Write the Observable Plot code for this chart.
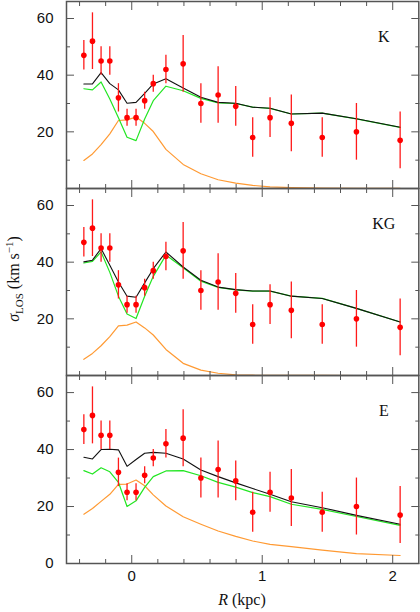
<!DOCTYPE html>
<html>
<head>
<meta charset="utf-8">
<script src="https://cdn.jsdelivr.net/npm/d3@7"></script>
<script src="https://cdn.jsdelivr.net/npm/@observablehq/plot@0.6"></script>
<style>
  html, body { margin: 0; padding: 0; background: white; }
  #wrap { position: relative; width: 420px; height: 612px; overflow: hidden; background: white; }
  #wrap svg { position: absolute; left: 0; overflow: visible; }
  .lbl { position: absolute; font-family: "Liberation Serif", "Times New Roman", serif; font-size: 16px; white-space: nowrap; color: #111; line-height: 16px; }
  sub, sup { font-size: 11px; line-height: 0; }
</style>
</head>
<body>
<div id="wrap"></div>
<script>
// Radial positions (kpc)
const R = [-0.367, -0.301, -0.235, -0.168, -0.102, -0.036, 0.033, 0.099, 0.165, 0.262, 0.394, 0.530, 0.662, 0.797, 0.927, 1.060, 1.223, 1.460, 1.722, 2.057];
// Observed line-of-sight dispersion and errors (km/s)
const sigma = [47, 52, 45, 45, 32, 25, 25, 31, 37, 42, 44, 30, 33, 29, 18, 25, 23, 18, 20, 17];
const sigmaErr = [5.2, 10, 5, 5, 5, 3, 3, 3, 3, 5, 10, 7, 10, 7, 7, 7, 10, 7, 10, 10];

// Model K
const totalK  = [36.9, 36.9, 40.9, 37.0, 34.8, 30.1, 30.4, 33.6, 36.9, 38.7, 35.5, 32.2, 30.4, 30.1, 28.7, 28.3, 26.3, 26.6, 24.6, 21.6];
const greenK  = [35.2, 34.8, 37.6, 31.6, 25.0, 18.1, 16.9, 24.5, 31.0, 36.1, 34.5, 31.8, 30.2, 30.0, 28.7, 28.3, 26.3, 26.6, 24.6, 21.6];
const orangeK = [9.9, 12.2, 15.5, 19.3, 24.0, 24.2, 25.2, 23.0, 20.1, 13.8, 8.5, 5.2, 3.1, 1.9, 1.1, 0.6, 0.3, 0.1, 0.05, 0.02];
// Model KG
const totalKG  = [40.1, 40.7, 44.8, 38.9, 33.0, 28.0, 27.6, 32.7, 37.7, 43.6, 38.3, 33.6, 31.2, 30.3, 29.8, 29.8, 28.0, 27.2, 23.7, 18.9];
const greenKG  = [39.7, 40.3, 43.6, 36.4, 28.0, 21.7, 20.1, 28.0, 35.0, 42.5, 38.0, 33.3, 31.1, 30.2, 29.8, 29.8, 28.0, 27.2, 23.7, 18.9];
const orangeKG = [5.7, 7.8, 10.5, 13.7, 17.5, 17.8, 18.9, 16.8, 14.3, 9.2, 4.3, 1.9, 0.8, 0.2, 0.1, 0.05, 0.02, 0.01, 0.0, 0.0];
// Model E
const totalE  = [37.3, 36.7, 40.0, 40.1, 39.9, 34.1, 36.5, 38.7, 39.0, 38.7, 36.7, 32.8, 30.5, 28.3, 26.3, 24.3, 21.7, 19.6, 16.9, 13.8];
const greenE  = [32.6, 31.4, 33.6, 32.2, 28.5, 20.0, 22.0, 26.7, 30.5, 32.5, 32.6, 30.8, 28.5, 26.8, 24.9, 23.5, 20.8, 19.0, 16.5, 13.4];
const orangeE = [17.3, 19.3, 21.8, 24.3, 27.8, 27.9, 29.3, 27.3, 24.1, 20.2, 16.4, 13.8, 11.4, 9.5, 7.9, 6.7, 5.9, 4.7, 3.5, 2.8];

const panelNames = ["K", "KG", "E"];
const yTickLabels = [20, 40, 60];
const yTickLabelsBottom = [0, 20, 40, 60];
const yMajorTicks = [0, 20, 40, 60];
const yMinorTicks = [10, 30, 50];
const xTickLabels = [0, 1, 2];
const xMajorTicks = [0, 1, 2];
const xMinorTicks = [-0.4, -0.2, 0.2, 0.4, 0.6, 0.8, 1.2, 1.4, 1.6, 1.8];

const models = [
  {name: panelNames[0], total: totalK, green: greenK, orange: orangeK},
  {name: panelNames[1], total: totalKG, green: greenKG, orange: orangeKG},
  {name: panelNames[2], total: totalE, green: greenE, orange: orangeE}
];

const obs = R.map((r, i) => ({R: r, s: sigma[i], e: sigmaErr[i]}));

const layout = [
  {top: 0, height: 188, mt: 1, mb: 0},
  {top: 188, height: 187, mt: 0, mb: 0},
  {top: 375, height: 237, mt: 0, mb: 49}
];

const axisColor = "#555";
const wrap = document.getElementById("wrap");

models.forEach((m, k) => {
  const rows = R.map((r, i) => ({R: r, total: m.total[i], green: m.green[i], orange: m.orange[i]}));
  const L = layout[k];
  const isBottom = k === 2;
  const tickCommon = {label: null, tickFormat: () => "", stroke: axisColor, strokeWidth: 1};
  const marks = [
    Plot.line(rows, {x: "R", y: "orange", stroke: "#ff9a33", strokeWidth: 1.2}),
    Plot.line(rows, {x: "R", y: "green", stroke: "#22e622", strokeWidth: 1.2}),
    Plot.line(rows, {x: "R", y: "total", stroke: "#111", strokeWidth: 1.1}),
    Plot.ruleX(obs, {x: "R", y1: d => d.s - d.e, y2: d => d.s + d.e, stroke: "#ff1a1a", strokeWidth: 1.3}),
    Plot.dot(obs, {x: "R", y: "s", r: 2.8, fill: "#ff0000", stroke: null}),
    // inward ticks, all four sides
    Plot.axisY({...tickCommon, anchor: "left", ticks: yMajorTicks, tickSize: -8}),
    Plot.axisY({...tickCommon, anchor: "left", ticks: yMinorTicks, tickSize: -4}),
    Plot.axisY({...tickCommon, anchor: "right", ticks: yMajorTicks, tickSize: -8}),
    Plot.axisY({...tickCommon, anchor: "right", ticks: yMinorTicks, tickSize: -4}),
    Plot.axisX({...tickCommon, anchor: "bottom", ticks: xMajorTicks, tickSize: -8}),
    Plot.axisX({...tickCommon, anchor: "bottom", ticks: xMinorTicks, tickSize: -4}),
    Plot.axisX({...tickCommon, anchor: "top", ticks: xMajorTicks, tickSize: -8}),
    Plot.axisX({...tickCommon, anchor: "top", ticks: xMinorTicks, tickSize: -4}),
    // tick labels
    Plot.axisY({anchor: "left", ticks: isBottom ? yTickLabelsBottom : yTickLabels, tickSize: 0, tickPadding: 13, label: null, fill: "#111", tickFormat: d3.format("d")}),
    Plot.frame({stroke: axisColor, strokeWidth: 1.5}),
    Plot.text([m.name], {frameAnchor: "top-right", dx: -35, dy: 29.5, lineAnchor: "top", textAnchor: "middle",
      fontFamily: "Liberation Serif, Times New Roman, serif", fontSize: 16, fill: "#111"})
  ];
  if (isBottom) {
    marks.push(Plot.axisX({anchor: "bottom", ticks: xTickLabels, tickSize: 0, tickPadding: 7, label: null, fill: "#111", tickFormat: d3.format("d")}));
  }
  const svg = Plot.plot({
    width: 420,
    height: L.height,
    marginLeft: 66,
    marginRight: 1.7,
    marginTop: L.mt,
    marginBottom: L.mb,
    x: {domain: [-0.5, 2.2]},
    y: {domain: [0, 66]},
    style: {fontFamily: "Liberation Sans, Arial, sans-serif", fontSize: "15px", background: "transparent", overflow: "visible"},
    marks
  });
  svg.style.top = L.top + "px";
  wrap.appendChild(svg);
});

// axis titles
const ylab = document.createElement("div");
ylab.className = "lbl";
ylab.innerHTML = "<i>σ</i><sub>LOS</sub> (km s<sup>−1</sup>)";
ylab.style.left = "14px";
ylab.style.top = "279px";
ylab.style.transform = "translate(-50%, -50%) rotate(-90deg)";
wrap.appendChild(ylab);

const xlab = document.createElement("div");
xlab.className = "lbl";
xlab.innerHTML = "<i>R</i> (kpc)";
xlab.style.left = "242px";
xlab.style.top = "592px";
xlab.style.transform = "translateX(-50%)";
wrap.appendChild(xlab);
</script>
</body>
</html>
